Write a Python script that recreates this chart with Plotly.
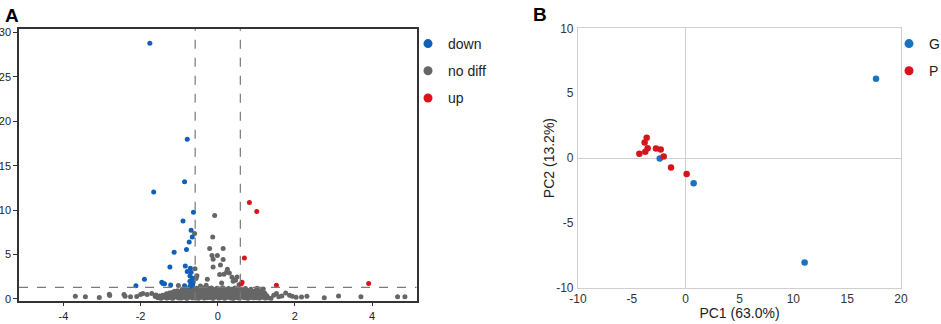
import plotly.graph_objects as go

# ---------------- Panel A: volcano data ----------------
down_x = [-1.76, -0.79, -0.86, -1.66, -0.63, -0.90, -0.69, -0.66, -0.74, -1.13, -0.81, -1.24, -0.84, -0.71, -0.79,
          -0.69, -0.72, -0.65, -1.90, -1.45, -1.42, -1.22, -0.72, -0.69, -0.64, -2.12, -0.86, -0.72, -0.65, -1.38]
down_y = [28.8, 17.98, 13.2, 12.05, 9.76, 8.78, 7.74, 6.98, 6.42, 5.26, 5.56, 3.60, 3.72, 3.46, 3.08,
          3.00, 2.59, 2.33, 2.22, 1.88, 1.73, 1.58, 1.99, 1.73, 1.85, 1.47, 1.47, 1.43, 1.58, 1.70]

up_x = [0.82, 1.01, 0.69, 0.63, 0.61, 1.52, 3.91]
up_y = [10.85, 9.84, 4.62, 1.88, 1.70, 1.54, 1.73]

nodiff_x = [
    # bottom row
    -1.55, -1.47, -1.40, -1.32, -1.25, -1.17, -1.10, -1.02, -0.95, -0.87, -0.80, -0.72, -0.65, -0.57, -0.50,
    -0.42, -0.35, -0.27, -0.20, -0.12, -0.05, 0.03, 0.10, 0.18, 0.25, 0.33, 0.40, 0.48, 0.55, 0.63,
    0.70, 0.78, 0.85, 0.93, 1.00, 1.08, 1.15, 1.23, 1.31, 1.38,
    # second row
    -1.51, -1.43, -1.36, -1.28, -1.21, -1.13, -1.06, -0.98, -0.91, -0.83, -0.76, -0.68, -0.61, -0.53, -0.46,
    -0.38, -0.31, -0.23, -0.16, -0.08, -0.01, 0.07, 0.14, 0.22, 0.29, 0.37, 0.44, 0.52, 0.59, 0.67,
    0.74, 0.82, 0.89, 0.97, 1.04, 1.12, 1.19, 1.27,
    # third row
    -1.33, -1.25, -1.18, -1.10, -1.03, -0.95, -0.88, -0.80, -0.73, -0.65, -0.58, -0.50, -0.43, -0.35, -0.28,
    -0.20, -0.13, -0.05, 0.02, 0.10, 0.17, 0.25, 0.32, 0.40, 0.47, 0.55, 0.62, 0.70, 0.77, 0.85,
    0.92, 1.00, 1.07, 1.15, 1.22,
    # fourth row
    -1.12, -1.04, -0.97, -0.89, -0.82, -0.74, -0.67, -0.59, -0.52, -0.44, -0.37, -0.29, -0.22, -0.14, -0.07,
    0.01, 0.08, 0.16, 0.23, 0.31, 0.38, 0.46, 0.53, 0.61, 0.68, 0.76, 0.83, 0.91, 0.98, 1.06, 1.13,
    # fifth row
    -0.92, -0.81, -0.70, -0.62, -0.55, -0.47, -0.39, -0.31, -0.24, -0.16, -0.09, -0.02, 0.06, 0.13, 0.21,
    0.28, 0.36, 0.44, 0.51, 0.60, 0.72, 0.86, 1.02, 1.18,
    # sparse outer points
    -3.69, -3.43, -3.07, -2.81, -2.80, -2.43, -2.40, -2.26, -2.10, -2.00, -1.94, -1.83, -1.71, -1.62, -1.60,
    1.45, 1.52, 1.58, 1.66, 1.76, 1.86, 1.93, 2.03, 2.17, 2.31, 2.76, 3.13, 3.71, 4.66, 4.85,
    # upper scattered points
    -0.08, -0.13, -0.21, 0.14, -0.15, -0.01, -0.12, 0.14, -0.12, 0.07, 0.25, 0.23, 0.05, 0.16, 0.30,
    0.37, 0.46, -0.60, -0.59, -0.57, -0.56, -0.27, 0.50, 0.40, -1.02, -0.54, 0.55, -0.45, 0.10, -0.30,
]
nodiff_y = [
    0.12, 0.05, 0.18, 0.09, 0.15, 0.04, 0.21, 0.11, 0.07, 0.16, 0.03, 0.19, 0.10, 0.14, 0.06,
    0.20, 0.08, 0.13, 0.17, 0.04, 0.22, 0.09, 0.15, 0.06, 0.18, 0.11, 0.03, 0.16, 0.08, 0.20,
    0.12, 0.05, 0.17, 0.10, 0.14, 0.07, 0.19, 0.09, 0.13, 0.06,
    0.34, 0.41, 0.29, 0.46, 0.37, 0.32, 0.48, 0.39, 0.44, 0.31, 0.36, 0.47, 0.40, 0.33, 0.45,
    0.38, 0.30, 0.49, 0.42, 0.35, 0.43, 0.31, 0.47, 0.39, 0.34, 0.44, 0.37, 0.30, 0.46, 0.41,
    0.33, 0.48, 0.36, 0.42, 0.32, 0.45, 0.38, 0.35,
    0.58, 0.66, 0.73, 0.61, 0.69, 0.56, 0.76, 0.63, 0.71, 0.59, 0.67, 0.74, 0.62, 0.70, 0.57,
    0.77, 0.64, 0.72, 0.60, 0.68, 0.75, 0.58, 0.66, 0.73, 0.61, 0.69, 0.56, 0.76, 0.63, 0.71,
    0.59, 0.67, 0.74, 0.62, 0.65,
    0.86, 0.93, 0.82, 0.98, 0.89, 0.95, 0.84, 1.01, 0.91, 0.87, 0.97, 0.83, 0.94, 1.00, 0.88,
    0.92, 0.85, 0.99, 0.90, 0.96, 0.83, 0.93, 1.02, 0.87, 0.94, 0.89, 0.97, 0.84, 0.92, 0.88, 0.95,
    1.08, 1.15, 1.22, 1.06, 1.19, 1.11, 1.26, 1.09, 1.17, 1.24, 1.05, 1.20, 1.13, 1.27, 1.07,
    1.18, 1.10, 1.23, 1.14, 1.06, 1.16, 1.09, 1.21, 1.12,
    0.30, 0.24, 0.17, 0.53, 0.39, 0.49, 0.30, 0.24, 0.27, 0.50, 0.60, 0.50, 0.62, 0.28, 0.45,
    0.42, 0.60, 0.25, 0.33, 0.67, 0.40, 0.30, 0.18, 0.23, 0.30, 0.13, 0.32, 0.25, 0.25, 0.24,
    9.39, 6.98, 5.67, 5.67, 4.89, 4.89, 4.48, 4.44, 3.59, 3.81, 3.35, 3.04, 2.74, 2.78, 2.93,
    2.44, 2.10, 7.36, 3.40, 2.30, 2.35, 2.22, 2.48, 2.00, 1.50, 2.60, 1.60, 1.45, 1.80, 1.55,
]

fc_threshold = 0.585      # |log2 FC|
p_threshold = 1.301       # -log10(0.05)
volcano_xticks = [-4, -2, 0, 2, 4]
volcano_xlabels = ["-4", "-2", "0", "2", "4"]
volcano_yticks = [0, 5, 10, 15, 20, 25, 30]
volcano_ylabels = ["0", "5", "10", "15", "20", "25", "30"]

# ---------------- Panel B: PCA data ----------------
G_pc1 = [-2.41, 0.74, 17.68, 11.05]
G_pc2 = [-0.03, -1.93, 6.12, -8.04]
P_pc1 = [-4.30, -3.81, -3.62, -3.75, -3.53, -2.76, -2.32, -2.04, -1.36, 0.09]
P_pc2 = [0.33, 1.21, 1.57, 0.49, 0.77, 0.75, 0.67, 0.13, -0.72, -1.23]
pca_xticks = [-10, -5, 0, 5, 10, 15, 20]
pca_xlabels = ["-10", "-5", "0", "5", "10", "15", "20"]
pca_yticks = [-10, -5, 0, 5, 10]
pca_ylabels = ["-10", "-5", "0", "5", "10"]

BLUE_A = "#1060b8"
GRAY_A = "#666666"
RED_A = "#d9141b"
BLUE_B = "#1a73c0"
RED_B = "#d7141c"
FONT = "Liberation Sans, Arial, sans-serif"

W, H = 941, 324

fig = go.Figure()

# volcano data traces
fig.add_trace(go.Scatter(x=nodiff_x, y=nodiff_y, mode="markers", xaxis="x", yaxis="y",
                         marker=dict(color=GRAY_A, size=5), showlegend=False, hoverinfo="skip"))
fig.add_trace(go.Scatter(x=down_x, y=down_y, mode="markers", xaxis="x", yaxis="y",
                         marker=dict(color=BLUE_A, size=5), showlegend=False))
fig.add_trace(go.Scatter(x=up_x, y=up_y, mode="markers", xaxis="x", yaxis="y",
                         marker=dict(color=RED_A, size=5), showlegend=False))

# volcano legend entries
for name, col in [("down", BLUE_A), ("no diff", GRAY_A), ("up", RED_A)]:
    fig.add_trace(go.Scatter(x=[None], y=[None], mode="markers", xaxis="x", yaxis="y", name=name,
                             legendgroup=name, legend="legend",
                             marker=dict(color=col, size=9)))

# PCA traces
fig.add_trace(go.Scatter(x=G_pc1, y=G_pc2, mode="markers", xaxis="x2", yaxis="y2", name="G",
                         showlegend=False, marker=dict(color=BLUE_B, size=6.5)))
fig.add_trace(go.Scatter(x=P_pc1, y=P_pc2, mode="markers", xaxis="x2", yaxis="y2", name="P",
                         showlegend=False, marker=dict(color=RED_B, size=6.5)))
for name, col in [("G", BLUE_B), ("P", RED_B)]:
    fig.add_trace(go.Scatter(x=[None], y=[None], mode="markers", xaxis="x2", yaxis="y2", name=name,
                             legendgroup=name, legend="legend2",
                             marker=dict(color=col, size=9)))

# threshold lines
dash_line = dict(color="#7a7a7a", width=1.2, dash="dash")
shapes = [
    dict(type="line", xref="x", yref="y domain", x0=-fc_threshold, x1=-fc_threshold, y0=0, y1=1, line=dash_line),
    dict(type="line", xref="x", yref="y domain", x0=fc_threshold, x1=fc_threshold, y0=0, y1=1, line=dash_line),
    dict(type="line", xref="x domain", yref="y", x0=0, x1=1, y0=p_threshold, y1=p_threshold, line=dash_line),
]

axA_common = dict(showline=True, linecolor="#333333", linewidth=1.5, mirror=True, showgrid=False,
                  zeroline=False, ticks="outside", ticklen=4, tickwidth=1.2, tickcolor="#333333",
                  tickfont=dict(size=11, color="#222222", family=FONT), automargin=False)
axB_common = dict(showline=True, linecolor="#cfcfcf", linewidth=1.2, mirror=True, showgrid=False,
                  zeroline=True, zerolinecolor="#cfcfcf", zerolinewidth=1,
                  ticks="outside", ticklen=1, tickcolor="rgba(0,0,0,0)",
                  tickfont=dict(size=12, color="#333333", family=FONT), automargin=False)

yB_domain = [1 - 288 / H, 1 - 28.3 / H]

fig.update_layout(
    width=W, height=H,
    margin=dict(l=0, r=0, t=0, b=0, autoexpand=False),
    paper_bgcolor="white", plot_bgcolor="white",
    font=dict(family=FONT, color="#222222"),
    xaxis=dict(domain=[19 / W, 416.5 / W], range=[-5.15, 5.15], tickvals=volcano_xticks,
               ticktext=volcano_xlabels, anchor="y", **axA_common),
    yaxis=dict(domain=[1 - 300.7 / H, 1 - 29 / H], range=[-0.2, 30.4], tickvals=volcano_yticks,
               ticktext=volcano_ylabels, anchor="x", **axA_common),
    xaxis2=dict(domain=[578 / W, 901 / W], range=[-10, 20], tickvals=pca_xticks, ticktext=pca_xlabels,
                anchor="y2", ticklabelstandoff=-2,
                title=dict(text="PC1 (63.0%)", font=dict(size=14, color="#222222"), standoff=3),
                **axB_common),
    yaxis2=dict(domain=yB_domain, range=[-10, 10], tickvals=pca_yticks, ticktext=pca_ylabels,
                anchor="x2", ticklabelstandoff=0, **axB_common),
    shapes=shapes,
    legend=dict(x=408 / W, y=1 - 28 / H, xanchor="left", yanchor="top", bgcolor="rgba(0,0,0,0)",
                font=dict(size=14, color="#222222", family=FONT), tracegroupgap=6,
                itemwidth=30, traceorder="grouped"),
    legend2=dict(x=889 / W, y=1 - 28 / H, xanchor="left", yanchor="top", bgcolor="rgba(0,0,0,0)",
                 font=dict(size=14, color="#222222", family=FONT), tracegroupgap=6,
                 itemwidth=30, traceorder="grouped"),
    annotations=[
        dict(text="<b>A</b>", x=3 / W, y=1 - 3 / H, xref="paper", yref="paper", xanchor="left", yanchor="top",
             showarrow=False, font=dict(size=19, color="black", family=FONT)),
        dict(text="<b>B</b>", x=531 / W, y=1 - 2 / H, xref="paper", yref="paper", xanchor="left", yanchor="top",
             showarrow=False, font=dict(size=19, color="black", family=FONT)),
        dict(text="PC2 (13.2%)", x=549 / W, y=(yB_domain[0] + yB_domain[1]) / 2, xref="paper", yref="paper",
             xanchor="center", yanchor="middle", textangle=-90, showarrow=False,
             font=dict(size=14, color="#222222", family=FONT)),
    ],
)

fig.write_html("out.html", config={"displayModeBar": False},
               post_script="document.body.style.margin='0';document.body.style.overflow='hidden';")
